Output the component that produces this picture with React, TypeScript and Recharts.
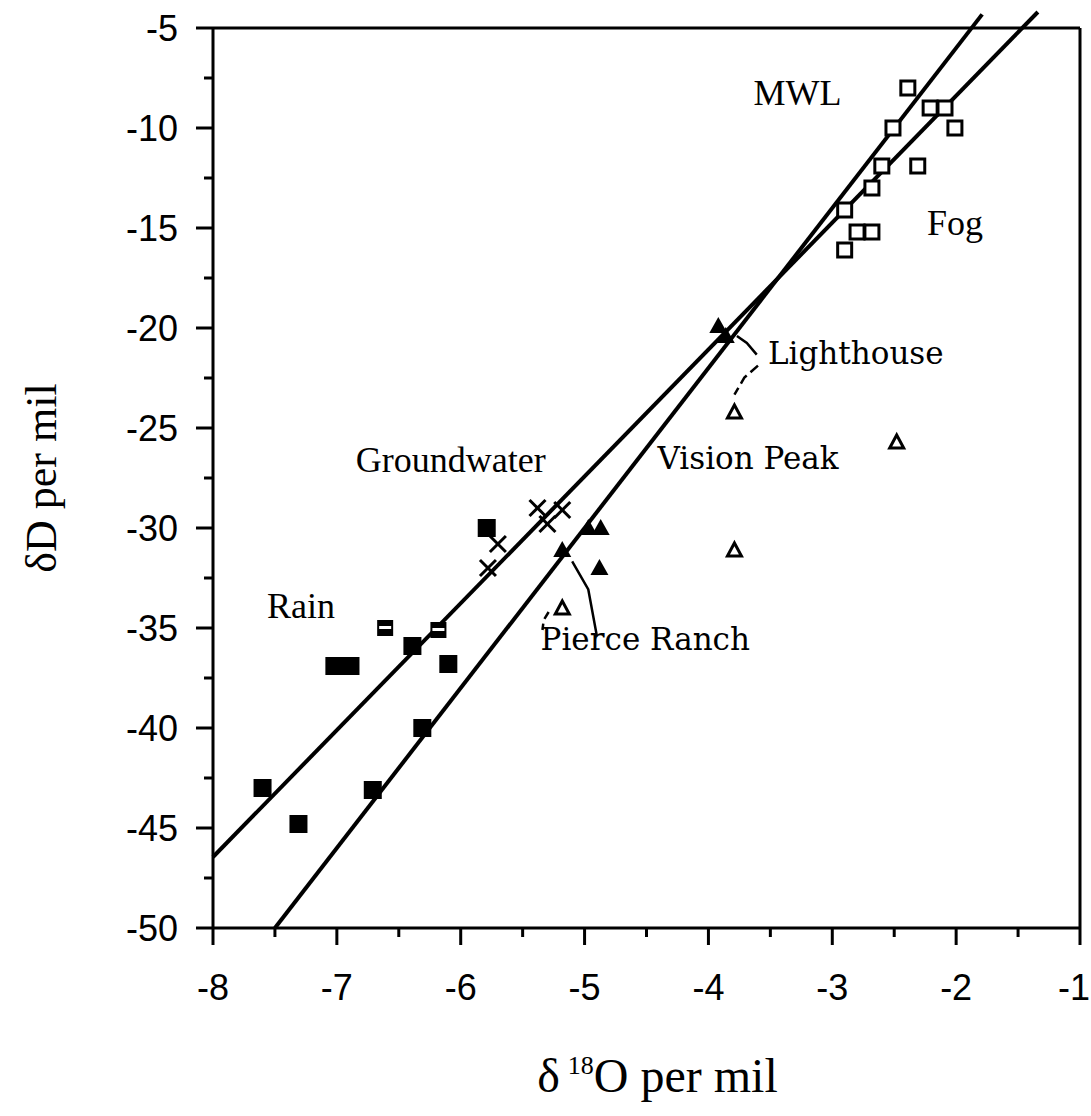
import { ScatterChart, Scatter, XAxis, YAxis, ReferenceLine, ReferenceDot } from 'recharts';

// δ18O / δD readings (per mil)
const fogO18 = [-2.39, -2.21, -2.09, -2.01, -2.51, -2.31, -2.6, -2.68, -2.9, -2.8, -2.68, -2.9];
const fogD = [-8.0, -9.0, -9.0, -10.0, -10.0, -11.9, -11.9, -13.0, -14.1, -15.2, -15.2, -16.1];

const rainO18 = [-5.79, -7.02, -6.89, -6.39, -6.1, -7.6, -7.31, -6.71, -6.31];
const rainD = [-30.0, -36.9, -36.9, -35.9, -36.8, -43.0, -44.8, -43.1, -40.0];

const rainBarO18 = [-6.61, -6.18];
const rainBarD = [-35.0, -35.1];

const groundO18 = [-5.38, -5.18, -5.3, -5.7, -5.78];
const groundD = [-29.0, -29.1, -29.8, -30.8, -32.0];

const solidTriO18 = [-4.97, -4.87, -5.18, -4.88, -3.92, -3.86];
const solidTriD = [-30.0, -30.0, -31.1, -32.0, -19.9, -20.4];

const openTriO18 = [-3.79, -2.48, -3.79, -5.18];
const openTriD = [-24.2, -25.7, -31.1, -34.0];

// fitted lines (end points)
const mwlLine = [{ x: -7.5, y: -50 }, { x: -1.79, y: -4.32 }];
const localLine = [{ x: -8, y: -46.45 }, { x: -1.34, y: -4.2 }];

// label leaders
const lighthouseLeader = [{ x: -3.77, y: -20.4 }, { x: -3.69, y: -20.75 }, { x: -3.61, y: -21.33 }];
const lighthouseDash = [{ x: -3.6, y: -21.88 }, { x: -3.71, y: -22.48 }, { x: -3.79, y: -23.33 }];
const pierceLeader = [{ x: -5.1, y: -31.67 }, { x: -4.97, y: -33.07 }, { x: -4.9, y: -35.42 }];
const pierceDash = [{ x: -5.29, y: -34.2 }, { x: -5.33, y: -34.6 }, { x: -5.34, y: -35.1 }];

const annotations = [
  { text: 'MWL', x: -3.28, y: -8.2, font: 'Liberation Serif', size: 36 },
  { text: 'Fog', x: -2.01, y: -14.69, font: 'Liberation Serif', size: 36 },
  { text: 'Groundwater', x: -6.08, y: -26.58, font: 'Liberation Serif', size: 36 },
  { text: 'Rain', x: -7.29, y: -33.87, font: 'Liberation Serif', size: 36 },
  { text: 'Lighthouse', x: -2.81, y: -21.24, font: 'DejaVu Serif', size: 31 },
  { text: 'Vision Peak', x: -3.68, y: -26.48, font: 'DejaVu Serif', size: 31 },
  { text: 'Pierce Ranch', x: -4.51, y: -35.57, font: 'DejaVu Serif', size: 31 },
];

const xTicks = [-8, -7.5, -7, -6.5, -6, -5.5, -5, -4.5, -4, -3.5, -3, -2.5, -2, -1.5, -1];
const yTicks = [-50, -47.5, -45, -42.5, -40, -37.5, -35, -32.5, -30, -27.5, -25, -22.5, -20, -17.5, -15, -12.5, -10, -7.5, -5];

const pts = (xs: number[], ys: number[]) => xs.map((x, i) => ({ x, y: ys[i] }));

const INK = '#000';

const OpenSquare = ({ cx, cy }: any) => (
  <rect x={cx - 7} y={cy - 7} width={14} height={14} fill="#fff" stroke={INK} strokeWidth={3} />
);
const FilledSquare = ({ cx, cy }: any) => (
  <rect x={cx - 9} y={cy - 9} width={18} height={18} fill={INK} />
);
const BarSquare = ({ cx, cy }: any) => (
  <g>
    <rect x={cx - 8} y={cy - 8} width={16} height={16} fill={INK} />
    <rect x={cx - 6} y={cy - 2} width={12} height={3} fill="#fff" />
  </g>
);
const Cross = ({ cx, cy }: any) => (
  <g stroke={INK} strokeWidth={3}>
    <line x1={cx - 8} y1={cy - 8} x2={cx + 8} y2={cy + 8} />
    <line x1={cx - 8} y1={cy + 8} x2={cx + 8} y2={cy - 8} />
  </g>
);
const SolidTri = ({ cx, cy }: any) => (
  <path d={`M${cx},${cy - 9} L${cx + 9},${cy + 7} L${cx - 9},${cy + 7} Z`} fill={INK} />
);
const OpenTri = ({ cx, cy }: any) => (
  <path d={`M${cx},${cy - 7} L${cx + 7},${cy + 6} L${cx - 7},${cy + 6} Z`} fill="#fff" stroke={INK} strokeWidth={3} strokeLinejoin="miter" />
);
const NoDot = () => <g />;

const XTick = ({ x, y, payload }: any) => {
  const major = Number.isInteger(payload.value);
  const last = payload.value === -1;
  return (
    <g>
      <line x1={x} x2={x} y1={y} y2={y + (major ? 17 : 9)} stroke={INK} strokeWidth={3} />
      {major && (
        <text x={last ? x + 10 : x} y={y + 72} textAnchor={last ? 'end' : 'middle'} fontFamily="Liberation Sans" fontSize={36} fill={INK}>
          {payload.value}
        </text>
      )}
    </g>
  );
};

const YTick = ({ x, y, payload }: any) => {
  const major = payload.value % 5 === 0;
  return (
    <g>
      <line x1={x - (major ? 17 : 9)} x2={x} y1={y} y2={y} stroke={INK} strokeWidth={3} />
      {major && (
        <text x={x - 35} y={y} dy="0.36em" textAnchor="end" fontFamily="Liberation Sans" fontSize={36} fill={INK}>
          {payload.value}
        </text>
      )}
    </g>
  );
};

const YTitle = ({ viewBox }: any) => {
  const cx = viewBox.x + viewBox.width - 172;
  const cy = viewBox.y + viewBox.height / 2;
  return (
    <text x={cx} y={cy} transform={`rotate(-90 ${cx} ${cy})`} textAnchor="middle" dominantBaseline="central"
      fontFamily="Liberation Serif" fontSize={44} fill={INK}>
      δD per mil
    </text>
  );
};

const XTitle = ({ viewBox }: any) => {
  const cx = viewBox.x + viewBox.width / 2 + 11;
  return (
    <text x={cx} y={viewBox.y + 164} textAnchor="middle" fontFamily="Liberation Serif" fontSize={48} fill={INK}>
      <tspan>δ</tspan>
      <tspan dx={8} dy={-18} fontSize={26}>18</tspan>
      <tspan dy={18}>O per mil</tspan>
    </text>
  );
};

export default function App() {
  return (
    <div style={{ width: 1091, height: 1116, background: '#fff' }}>
      <style>{'body{margin:0;background:#fff}'}</style>
      <ScatterChart width={1091} height={1116} margin={{ top: 0, right: 0, bottom: 0, left: 0 }}>
        <XAxis
          type="number"
          dataKey="x"
          domain={[-8, -1]}
          ticks={xTicks}
          allowDataOverflow
          height={188}
          tickSize={0}
          tickMargin={0}
          tick={<XTick />}
          tickLine={false}
          axisLine={{ stroke: INK, strokeWidth: 3 }}
          interval={0}
          label={<XTitle />}
        />
        <XAxis xAxisId="top" orientation="top" type="number" domain={[-8, -1]} height={28} tick={false} tickLine={false}
          axisLine={{ stroke: INK, strokeWidth: 3 }} />
        <YAxis
          type="number"
          dataKey="y"
          domain={[-50, -5]}
          ticks={yTicks}
          allowDataOverflow
          width={213}
          tickSize={0}
          tickMargin={0}
          tick={<YTick />}
          tickLine={false}
          axisLine={{ stroke: INK, strokeWidth: 3 }}
          interval={0}
          label={<YTitle />}
        />
        <YAxis yAxisId="right" orientation="right" type="number" domain={[-50, -5]} width={11} tick={false} tickLine={false}
          axisLine={{ stroke: INK, strokeWidth: 3 }} />

        <ReferenceLine segment={mwlLine} ifOverflow="visible" stroke={INK} strokeWidth={4} />
        <ReferenceLine segment={localLine} ifOverflow="visible" stroke={INK} strokeWidth={4} />

        <Scatter data={lighthouseLeader} shape={NoDot} line={{ stroke: INK, strokeWidth: 2.5 }} isAnimationActive={false} />
        <Scatter data={lighthouseDash} shape={NoDot} line={{ stroke: INK, strokeWidth: 2.5, strokeDasharray: '10 5' }} isAnimationActive={false} />
        <Scatter data={pierceLeader} shape={NoDot} line={{ stroke: INK, strokeWidth: 2.5 }} isAnimationActive={false} />
        <Scatter data={pierceDash} shape={NoDot} line={{ stroke: INK, strokeWidth: 2.5, strokeDasharray: '8 5' }} isAnimationActive={false} />

        <Scatter name="Fog" data={pts(fogO18, fogD)} shape={OpenSquare} isAnimationActive={false} />
        <Scatter name="Rain" data={pts(rainO18, rainD)} shape={FilledSquare} isAnimationActive={false} />
        <Scatter name="Rain (bar)" data={pts(rainBarO18, rainBarD)} shape={BarSquare} isAnimationActive={false} />
        <Scatter name="Groundwater" data={pts(groundO18, groundD)} shape={Cross} isAnimationActive={false} />
        <Scatter name="Springs" data={pts(solidTriO18, solidTriD)} shape={SolidTri} isAnimationActive={false} />
        <Scatter name="Wells" data={pts(openTriO18, openTriD)} shape={OpenTri} isAnimationActive={false} />

        {annotations.map((a) => (
          <ReferenceDot
            key={a.text}
            x={a.x}
            y={a.y}
            r={0}
            fill="none"
            stroke="none"
            ifOverflow="visible"
            label={{ value: a.text, position: 'center', fontFamily: a.font, fontSize: a.size, fill: INK }}
          />
        ))}
      </ScatterChart>
    </div>
  );
}
